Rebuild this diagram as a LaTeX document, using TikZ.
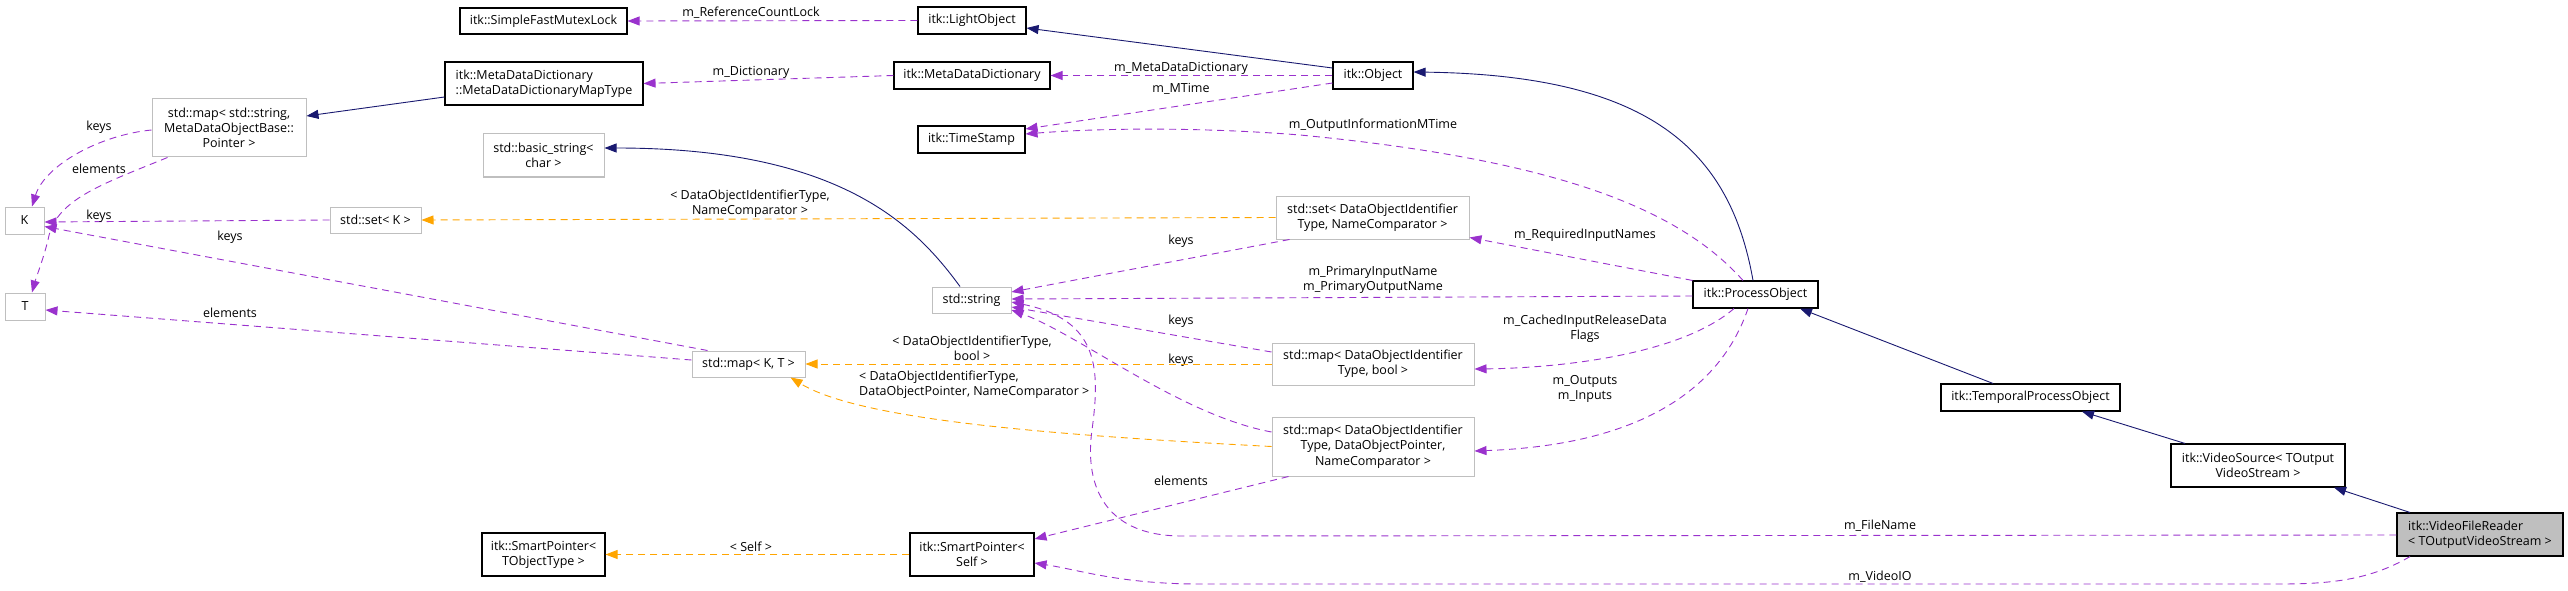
\documentclass[tikz,border=0pt]{standalone}
\usepackage{fontspec}
\setmainfont{Open Sans}
\usetikzlibrary{arrows.meta}
\definecolor{dpurple}{HTML}{9A32CD}
\definecolor{dnavy}{HTML}{191970}
\definecolor{dorange}{HTML}{FFA500}
\definecolor{boxgray}{HTML}{BFBFBF}
\newcommand\dgfont{\fontsize{12.5}{15.3}\selectfont}
\tikzset{
  box/.style={draw=black, line width=1.1pt, inner sep=0pt, align=center, font=\dgfont},
  gbox/.style={box, draw=boxgray, line width=1pt},
  tip/.style={-{Triangle[length=12pt,width=9pt]}},
  pe/.style={draw=dpurple, line width=0.9pt, dash pattern=on 7pt off 5pt, tip},
  oe/.style={draw=dorange, line width=0.9pt, dash pattern=on 7pt off 5pt, tip},
  ne/.style={draw=dnavy, line width=0.9pt, tip},
  lab/.style={inner sep=0pt, font=\dgfont, align=center}
}
\begin{document}
\begin{tikzpicture}[x=1pt,y=-1pt]
\useasboundingbox (0,0) rectangle (2568,591);
% nodes
\node[box, minimum width=167pt, minimum height=26pt] (sfml) at (543.5,21) {itk::SimpleFastMutexLock};
\node[box, minimum width=108pt, minimum height=27pt] (light) at (972,20.5) {itk::LightObject};
\node[box, minimum width=198pt, minimum height=43pt, align=left] (mddmap) at (544,83.5) {itk::MetaDataDictionary\\::MetaDataDictionaryMapType};
\node[box, minimum width=156pt, minimum height=27pt] (mdd) at (972,75.5) {itk::MetaDataDictionary};
\node[box, minimum width=80pt, minimum height=27pt] (object) at (1373,75.5) {itk::Object};
\node[box, minimum width=107pt, minimum height=27pt] (timestamp) at (971.5,139.5) {itk::TimeStamp};
\node[gbox, minimum width=154pt, minimum height=58pt] (mapstr) at (229,128) {std::map{\textless} std::string,\\MetaDataObjectBase::\\Pointer {\textgreater}};
\node[gbox, minimum width=121pt, minimum height=43pt] (basicstr) at (543.5,155.5) {std::basic\_string{\textless}\\char {\textgreater}};
\node[gbox, minimum width=39pt, minimum height=27pt] (K) at (24.5,220.5) {K};
\node[gbox, minimum width=91pt, minimum height=26pt] (setK) at (375.5,220) {std::set{\textless} K {\textgreater}};
\node[gbox, minimum width=40pt, minimum height=27pt] (T) at (25,306.5) {T};
\node[gbox, minimum width=193pt, minimum height=43pt] (setDOI) at (1372.5,217.5) {std::set{\textless} DataObjectIdentifier\\Type, NameComparator {\textgreater}};
\node[gbox, minimum width=79pt, minimum height=26pt] (string) at (971.5,300) {std::string};
\node[box, minimum width=125pt, minimum height=27pt] (po) at (1755.5,294.5) {itk::ProcessObject};
\node[gbox, minimum width=113pt, minimum height=26pt] (mapKT) at (748.5,364) {std::map{\textless} K, T {\textgreater}};
\node[gbox, minimum width=202pt, minimum height=42pt] (mapBool) at (1373,364) {std::map{\textless} DataObjectIdentifier\\Type, bool {\textgreater}};
\node[gbox, minimum width=202pt, minimum height=59pt] (mapDOP) at (1373,446.5) {std::map{\textless} DataObjectIdentifier\\Type, DataObjectPointer,\\NameComparator {\textgreater}};
\node[box, minimum width=179pt, minimum height=27pt] (tpo) at (2030.5,397.5) {itk::TemporalProcessObject};
\node[box, minimum width=174pt, minimum height=43pt] (vsrc) at (2258,465.5) {itk::VideoSource{\textless} TOutput\\VideoStream {\textgreater}};
\node[box, fill=boxgray, minimum width=166pt, minimum height=43pt, align=left] (vfr) at (2480,534.5) {itk::VideoFileReader\\{\textless} TOutputVideoStream {\textgreater}};
\node[box, minimum width=124pt, minimum height=43pt] (spSelf) at (972,554.5) {itk::SmartPointer{\textless}\\Self {\textgreater}};
\node[box, minimum width=123pt, minimum height=43pt] (spT) at (543.5,554.5) {itk::SmartPointer{\textless}\\TObjectType {\textgreater}};
% edges
\draw[pe] (light.west) -- (sfml.east);
\node[lab] (l1) at (751,13) {m\_ReferenceCountLock};
\draw[ne] ([yshift=7.5pt]object.west) -- ([yshift=-7.5pt]light.east);
\draw[pe] (mdd.west) -- (mddmap.east);
\node[lab] (l2) at (751,72) {m\_Dictionary};
\draw[ne] ([yshift=-13.5pt]mddmap.west) -- ([yshift=12pt]mapstr.east);
\draw[pe] ([yshift=-2pt]mapstr.west) .. controls (100,135) and (45,165) .. ([xshift=7.5pt]K.north);
\node[lab] (l3) at (99,127) {keys};
\draw[pe] ([xshift=16pt]mapstr.south west) .. controls (100,185) and (55,200) .. (48,240) .. controls (43,260) and (36,278) .. ([xshift=7pt]T.north);
\node[lab] (l4) at (99,169) {elements};
\draw[pe] (setK.west) -- ([yshift=-1.5pt]K.east);
\node[lab] (l5) at (99,216) {keys};
\draw[pe] ([xshift=16pt]mapKT.north west) -- ([yshift=-6pt]K.east);
\node[lab] (l6) at (230,237) {keys};
\draw[pe] ([yshift=4pt]mapKT.west) -- ([yshift=-3.5pt]T.east);
\node[lab] (l7) at (230,313) {elements};
\draw[oe] (setDOI.west) -- (setK.east);
\node[lab] (l8) at (750,204) {{\textless} DataObjectIdentifierType,\\NameComparator {\textgreater}};
\draw[ne] ([xshift=-11.5pt]string.north) .. controls (915,225) and (840,148) .. ([yshift=7.5pt]basicstr.east);
\draw[pe] ([xshift=14pt]setDOI.south west) -- ([yshift=8pt]string.east);
\node[lab] (l9) at (1181,241) {keys};
\draw[pe] ([yshift=-1.5pt]po.west) -- ([yshift=1pt]string.east);
\node[lab] (l10) at (1373,280) {m\_PrimaryInputName\\m\_PrimaryOutputName};
\draw[pe] ([yshift=12pt]mapBool.west) -- ([yshift=-7pt]string.east);
\node[lab] (l11) at (1181,321) {keys};
\draw[pe] ([yshift=14.5pt]mapDOP.west) .. controls (1180,415) and (1080,335) .. ([yshift=-10pt]string.east);
\node[lab] (l12) at (1181,360) {keys};
\draw[oe] (mapBool.west) -- (mapKT.east);
\node[lab] (l13) at (972,348) {{\textless} DataObjectIdentifierType,\\bool {\textgreater}};
\draw[oe] (mapDOP.west) .. controls (1050,435) and (860,420) .. ([xshift=-15pt]mapKT.south east);
\node[lab, align=left, anchor=west] (l14) at (859,385) {{\textless} DataObjectIdentifierType,\\DataObjectPointer, NameComparator {\textgreater}};
\draw[pe] (po.north west) -- ([yshift=2pt]setDOI.south east);
\node[lab] (l15) at (1585,235) {m\_RequiredInputNames};
\draw[pe] ([xshift=-12.5pt]po.north) .. controls (1680,210) and (1560,160) .. (1300,135) .. controls (1200,127) and (1100,128) .. ([yshift=5.5pt]timestamp.east);
\node[lab] (l16) at (1373,125) {m\_OutputInformationMTime};
\draw[pe] ([yshift=-7.5pt]object.west) -- ([yshift=10.5pt]timestamp.east);
\node[lab] (l17) at (1181,89) {m\_MTime};
\draw[pe] (object.west) -- (mdd.east);
\node[lab] (l18) at (1181,68) {m\_MetaDataDictionary};
\draw[ne] ([xshift=-2.5pt]po.north) .. controls (1730,150) and (1650,75) .. ([yshift=3.5pt]object.east);
\draw[ne] ([xshift=-37.5pt]tpo.north) -- ([xshift=44.5pt]po.south);
\draw[ne] ([xshift=-73pt]vsrc.north) -- ([xshift=51.5pt]tpo.south);
\draw[ne] ([xshift=-70pt]vfr.north) -- ([xshift=76pt]vsrc.south);
\draw[pe] ([xshift=-21.5pt]po.south) .. controls (1680,355) and (1560,368) .. ([yshift=-5pt]mapBool.east);
\node[lab] (l19) at (1585,329) {m\_CachedInputReleaseData\\Flags};
\draw[pe] ([xshift=-7.5pt]po.south) .. controls (1720,390) and (1640,445) .. ([yshift=-4.5pt]mapDOP.east);
\node[lab] (l20) at (1585,389) {m\_Outputs\\m\_Inputs};
\draw[pe] ([xshift=17pt]mapDOP.south west) -- ([yshift=15.5pt]spSelf.east);
\node[lab] (l21) at (1181,481) {elements};
\draw[pe] ([yshift=-0.5pt]vfr.west) -- (1180,536) .. controls (1100,535) and (1085,480) .. (1092,430) .. controls (1100,370) and (1100,320) .. ([yshift=-2pt]string.east);
\node[lab] (l22) at (1880,526) {m\_FileName};
\draw[pe] ([xshift=-70pt]vfr.south) .. controls (2370,580) and (2330,584) .. (2280,584) -- (1200,584) .. controls (1120,584) and (1080,570) .. ([yshift=-8.5pt]spSelf.east);
\node[lab] (l23) at (1880,577) {m\_VideoIO};
\draw[oe] (spSelf.west) -- (spT.east);
\node[lab] (l24) at (751,547) {{\textless} Self {\textgreater}};
\end{tikzpicture}
\end{document}
